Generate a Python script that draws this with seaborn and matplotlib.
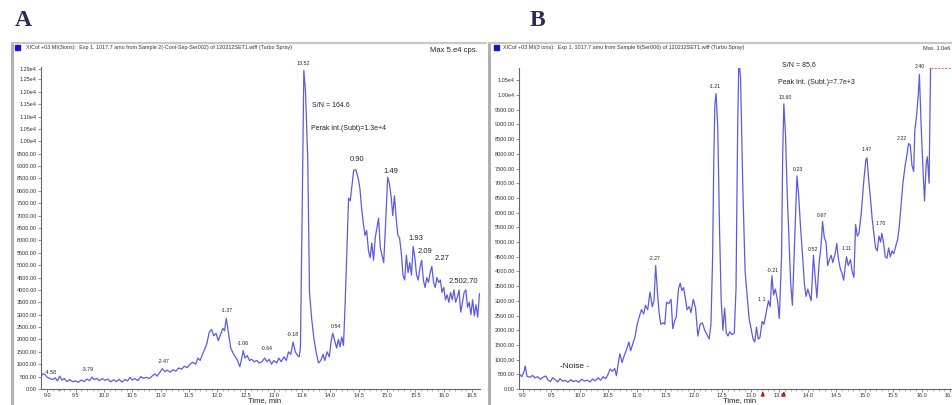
import numpy as np
import pandas as pd
import matplotlib.pyplot as plt
from matplotlib.lines import Line2D
from matplotlib.patches import Rectangle
import seaborn as sns

sns.set_style("ticks")
plt.rcParams['font.family'] = ['Liberation Sans', 'DejaVu Sans']

# ---- panel A trace (time, min / intensity, cps)
a_time = [8.89, 8.93, 8.97, 9.00, 9.05, 9.10, 9.14, 9.18, 9.22, 9.26, 9.30, 9.35, 9.40, 9.45,
          9.50, 9.55, 9.60, 9.65, 9.70, 9.75, 9.79, 9.83, 9.88, 9.92, 9.97, 10.02, 10.07, 10.12,
          10.17, 10.22, 10.27, 10.32, 10.37, 10.42, 10.46, 10.50, 10.55, 10.60, 10.65, 10.70,
          10.75, 10.80, 10.85, 10.90, 10.94, 10.99, 11.03, 11.08, 11.12, 11.17, 11.22, 11.27,
          11.32, 11.37, 11.42, 11.47, 11.52, 11.57, 11.62, 11.66, 11.70, 11.74, 11.78, 11.82,
          11.86, 11.90, 11.94, 11.98, 12.02, 12.06, 12.10, 12.13, 12.16, 12.20, 12.24, 12.28,
          12.32, 12.36, 12.40, 12.43, 12.46, 12.49, 12.53, 12.57, 12.61, 12.65, 12.70, 12.74,
          12.79, 12.84, 12.88, 12.92, 12.96, 13.00, 13.05, 13.09, 13.13, 13.18, 13.22, 13.26,
          13.30, 13.34, 13.38, 13.42, 13.45, 13.47, 13.50, 13.53, 13.56, 13.60, 13.63, 13.67,
          13.71, 13.75, 13.79, 13.83, 13.87, 13.90, 13.94, 13.98, 14.01, 14.04, 14.08, 14.11,
          14.14, 14.17, 14.20, 14.23, 14.26, 14.29, 14.32, 14.35, 14.38, 14.41, 14.45, 14.49,
          14.52, 14.55, 14.58, 14.61, 14.64, 14.67, 14.70, 14.73, 14.76, 14.79, 14.82, 14.85,
          14.88, 14.91, 14.94, 14.97, 15.01, 15.04, 15.07, 15.10, 15.13, 15.16, 15.19, 15.22,
          15.25, 15.28, 15.31, 15.34, 15.37, 15.40, 15.43, 15.46, 15.49, 15.52, 15.55, 15.58,
          15.61, 15.64, 15.67, 15.70, 15.73, 15.76, 15.79, 15.82, 15.85, 15.88, 15.91, 15.94,
          15.97, 16.00, 16.03, 16.06, 16.09, 16.12, 16.15, 16.18, 16.21, 16.24, 16.27, 16.30,
          16.33, 16.36, 16.39, 16.42, 16.45, 16.48, 16.51, 16.54, 16.57, 16.60, 16.63]
a_int = [520, 620, 560, 470, 420, 380, 450, 330, 520, 360, 420, 300, 380, 290,
         330, 270, 360, 300, 400, 340, 480, 380, 430, 330, 420, 350, 400, 290,
         370, 300, 390, 280, 380, 330, 470, 360, 420, 340, 500, 430,
         470, 420, 520, 610, 520, 680, 820, 700, 760, 680, 780, 720,
         850, 800, 920, 860, 1000, 1080, 1000, 1250, 1150, 1400, 1600, 1850,
         2300, 2400, 2150, 2250, 1950, 2200, 2450, 2350, 2850, 2250, 1650, 1450,
         1300, 1150, 900, 1200, 1550, 1250, 1350, 1150, 1200, 1100, 1150, 1050,
         1100, 1250, 1100, 1200, 1000, 1150, 1050, 1250, 1100, 1300, 1150, 1500,
         1400, 1900, 1500, 1350, 1300, 1700, 7000, 12860, 12000, 9200, 3900, 2800,
         2000, 1450, 1050, 1150, 1400, 1150, 1500, 1300, 1900, 2250, 1900, 1650,
         2000, 1700, 2100, 1750, 3500, 5600, 7700, 7600, 8200, 8830, 8850, 8500,
         8100, 7300, 6700, 6200, 6400, 5600, 5300, 5900, 5200, 6100, 6500, 6900,
         5700, 5400, 5100, 6500, 8550, 8300, 7800, 7000, 7800, 6900, 6200, 6100,
         5500, 4600, 4400, 5400, 4700, 5100, 4600, 5750, 5300, 4600, 4400, 4900,
         5200, 4400, 4100, 4500, 4300, 4700, 4950, 4300, 4100, 4500, 4300, 4400,
         3900, 4100, 3600, 3800, 3500, 3900, 3600, 4000, 3500, 3700, 4000, 3100,
         3500, 3900, 4000, 3300, 3500, 3000, 3600, 2950, 3400, 2900, 3850]

# ---- panel B trace
b_time = [8.86, 8.90, 8.94, 8.98, 9.02, 9.04, 9.07, 9.12, 9.17, 9.21, 9.26, 9.30, 9.35, 9.40,
          9.44, 9.48, 9.52, 9.56, 9.61, 9.65, 9.70, 9.74, 9.79, 9.84, 9.88, 9.93, 9.98, 10.03,
          10.08, 10.13, 10.18, 10.22, 10.27, 10.32, 10.36, 10.41, 10.45, 10.49, 10.53, 10.57,
          10.61, 10.64, 10.67, 10.70, 10.74, 10.78, 10.82, 10.86, 10.89, 10.93, 10.97, 11.00,
          11.04, 11.08, 11.12, 11.15, 11.19, 11.23, 11.27, 11.30, 11.33, 11.36, 11.39, 11.42,
          11.46, 11.49, 11.52, 11.56, 11.60, 11.63, 11.66, 11.69, 11.73, 11.76, 11.79, 11.82,
          11.85, 11.88, 11.92, 11.95, 11.99, 12.03, 12.07, 12.11, 12.15, 12.19, 12.23, 12.27,
          12.30, 12.33, 12.35, 12.37, 12.39, 12.42, 12.45, 12.48, 12.51, 12.54, 12.57, 12.60,
          12.63, 12.67, 12.71, 12.74, 12.77, 12.79, 12.82, 12.86, 12.90, 12.93, 12.97, 13.00,
          13.04, 13.07, 13.10, 13.13, 13.16, 13.20, 13.23, 13.27, 13.31, 13.34, 13.37, 13.40,
          13.43, 13.47, 13.50, 13.54, 13.56, 13.58, 13.61, 13.64, 13.67, 13.70, 13.73, 13.77,
          13.81, 13.84, 13.87, 13.91, 13.94, 13.97, 14.00, 14.03, 14.06, 14.10, 14.13, 14.16,
          14.20, 14.23, 14.26, 14.29, 14.32, 14.35, 14.38, 14.41, 14.44, 14.48, 14.51, 14.54,
          14.57, 14.60, 14.63, 14.66, 14.68, 14.71, 14.75, 14.78, 14.81, 14.84, 14.87, 14.90,
          14.94, 14.98, 15.02, 15.04, 15.07, 15.10, 15.13, 15.16, 15.19, 15.22, 15.25, 15.28,
          15.30, 15.33, 15.36, 15.39, 15.42, 15.45, 15.48, 15.51, 15.55, 15.58, 15.61, 15.64,
          15.67, 15.71, 15.74, 15.77, 15.80, 15.83, 15.86, 15.88, 15.91, 15.94, 15.96, 15.99,
          16.02, 16.05, 16.08, 16.10, 16.13, 16.16]
b_int = [540, 650, 500, 420, 600, 780, 430, 400, 460, 380, 420, 330, 400, 440,
         300, 250, 380, 330, 240, 350, 260, 300, 230, 320, 250, 290, 230, 330,
         270, 300, 240, 340, 280, 380, 300, 420, 350, 480, 680, 600,
         700, 450, 820, 1200, 900, 1150, 1350, 1600, 1300, 1550, 1800, 2150,
         2450, 2700, 2550, 2850, 2700, 3300, 2800, 3000, 4200, 3300, 2600, 2200,
         2250, 2200, 2950, 2900, 3050, 2050, 2300, 2450, 3400, 3600, 3350, 3450,
         3100, 2700, 2800, 2600, 3050, 2750, 1800, 2200, 2250, 2000, 1850, 1700,
         2200, 4500, 7800, 9700, 10050, 8900, 5500, 3000, 2000, 2750, 1900, 1800,
         1950, 1850, 1900, 3400, 9000, 11200, 10600, 6800, 4000, 3300, 2400, 2100,
         1700, 1600, 2100, 1700, 1750, 2300, 2200, 2600, 3000, 2800, 3850, 3200,
         3400, 3000, 2400, 4500, 8000, 9700, 8600, 6600, 5100, 3600, 2850, 5000,
         7250, 6600, 5600, 4500, 3600, 3150, 3400, 3200, 3000, 4550, 3800, 3100,
         4300, 4800, 5700, 5150, 5000, 4200, 4400, 4550, 4300, 4600, 4950, 4400,
         4100, 3950, 3700, 4200, 4500, 4200, 4400, 4000, 3800, 5600, 5200, 5300,
         6000, 7000, 7800, 7860, 7100, 6500, 5800, 5300, 4800, 4700, 5200, 5000,
         5300, 5000, 4500, 4450, 4800, 4500, 4700, 4600, 4900, 5100, 5600, 6300,
         7000, 7600, 7950, 8350, 8300, 7600, 7400, 8800, 9300, 10000, 10700, 9000,
         7600, 6400, 7700, 7900, 7000, 11500]

# ---- peak labels
a_big_lab = ['0.90', '1.49', '1.93', '2.09', '2.27', '2.502.70']
a_big_x = [14.47, 15.07, 15.51, 15.67, 15.97, 16.34]
a_big_y = [9110, 8630, 5930, 5400, 5120, 4190]
a_small_lab = ['-4.58', '-3.79', '-2.47', '-1.37', '-1.06', '-0.64', '-0.18', '0.54', '13.52']
a_small_x = [9.07, 9.72, 11.05, 12.17, 12.46, 12.88, 13.34, 14.10, 13.52]
a_small_y = [560, 680, 1000, 3060, 1730, 1530, 2100, 2420, 13060]

b_lab = ['-2.27', '-1.21', '13.60', '0.23', '-0.21', '1 1', '0.52', '0.67', '1.11',
         '1.47', '1.70', '2.22', '2.40']
b_lab_x = [11.32, 12.37, 13.60, 13.82, 13.39, 13.19, 14.09, 14.24, 14.68,
           15.04, 15.28, 15.65, 15.97]
b_lab_y = [4350, 10200, 9830, 7380, 3950, 2960, 4660, 5820, 4690,
           8060, 5540, 8440, 10880]

a_header = "XICof +03 MI(3ions):  Exp 1, 1017.7 amu from Sample 2(-Cont-Sep-Ser002) of 120212SET1.wiff (Turbo Spray)"
b_header = "XICof +03 MI(3 ions):  Exp 1, 1017.7 amu from Sample 6(Ser006) of 120212SET1.wiff (Turbo Spray)"

a_yticks = list(range(0, 12501, 500)) + [12900]
b_yticks = list(range(0, 10501, 500))
x_ticks = [9.0, 9.5, 10.0, 10.5, 11.0, 11.5, 12.0, 12.5, 13.0, 13.5, 14.0, 14.5, 15.0, 15.5, 16.0, 16.5]
x_ticklabels = ['9.0', '9.5', '10.0', '10.5', '11.0', '11.5', '12.0', '12.5', '13.0', '13.6',
                '14.0', '14.5', '15.0', '15.5', '16.0', '16.5']
b_arrows = [13.21, 13.58]

W, H = 953, 405
LINE = '#5b5be0'
INK = '#333333'

fig = plt.figure(figsize=(W / 100, H / 100), dpi=100)
fig.patch.set_facecolor('white')

axA = fig.add_axes([41 / W, 1 - 389 / H, (480 - 41) / W, (389 - 67) / H])
axB = fig.add_axes([519 / W, 1 - 389 / H, (953 - 519) / W, (389 - 68) / H])


def yfmt(v):
    if v >= 10000:
        return f"{v / 1e4:.2f}e4"
    return f"{v:.2f}"


def style_axis(ax, xlim, ylim, yticks):
    ax.set_xlim(*xlim)
    ax.set_ylim(*ylim)
    for s in ['top', 'right']:
        ax.spines[s].set_visible(False)
    for s in ['left', 'bottom']:
        ax.spines[s].set_color('#666666')
        ax.spines[s].set_linewidth(0.8)
    ax.set_xticks(x_ticks)
    ax.set_xticklabels(x_ticklabels)
    ax.set_xticks(np.arange(9.0, 16.55, 0.1), minor=True)
    ax.set_yticks(yticks)
    ax.set_yticklabels([yfmt(v) for v in yticks])
    ax.tick_params(axis='both', which='major', labelsize=4, length=2, width=0.5, pad=1,
                   colors='#666666', labelcolor=INK)
    ax.tick_params(axis='x', which='minor', length=1.5, width=0.4, colors='#666666')
    ax.set_xlabel('')
    ax.set_ylabel('')
    ax.set_facecolor('white')


sns.lineplot(x=a_time, y=a_int, ax=axA, color=LINE, lw=0.9, estimator=None, sort=False)
sns.lineplot(x=b_time, y=b_int, ax=axB, color=LINE, lw=0.9, estimator=None, sort=False)

style_axis(axA, (8.89, 16.64), (0, 13000), a_yticks)
style_axis(axB, (8.93, 16.55), (0, 10920), b_yticks)

# peak labels
for t, x, y in zip(a_big_lab, a_big_x, a_big_y):
    axA.text(x, y, t, fontsize=5.5, ha='center', va='bottom', color='#222222')
for t, x, y in zip(a_small_lab, a_small_x, a_small_y):
    axA.text(x, y, t, fontsize=3.8, ha='center', va='bottom', color='#222222', clip_on=False)
for t, x, y in zip(b_lab, b_lab_x, b_lab_y):
    axB.text(x, y, t, fontsize=3.8, ha='center', va='bottom', color='#222222', clip_on=False)

axA.text(13.68, 11450, 'S/N = 164.6', fontsize=5, ha='left', va='center', color='#222222')
axA.text(13.65, 10520, 'Perak int.(Subt)=1.3e+4', fontsize=5, ha='left', va='center', color='#222222')
axB.text(13.54, 10990, 'S/N = 85.6', fontsize=5, ha='left', va='center', color='#222222', clip_on=False)
axB.text(13.47, 10440, 'Peak Int. (Subt.)=7.7e+3', fontsize=5, ha='left', va='center', color='#222222')
axB.text(9.91, 750, '-Noise -', fontsize=6, ha='center', va='center', color='#222222')

# max marker line in B
axB.plot([b_time[-1], 16.55], [10920, 10920], color='#e06060', lw=0.7, ls=(0, (2, 1.5)), clip_on=False)

# red markers under the time axis
for t in b_arrows:
    axB.annotate('', xy=(t, 0), xycoords=('data', 'axes fraction'), xytext=(0, -6),
                 textcoords='offset points',
                 arrowprops=dict(arrowstyle='-|>', color='#cc1010', lw=1.2, mutation_scale=4))
axA.text(9.22, 0, '^', transform=axA.get_xaxis_transform(), fontsize=4, color='#cc2020',
         ha='center', va='top')

# frames and headers
fig.add_artist(Line2D([12 / W, 12 / W], [0, 1 - 43 / H], color='#b0b0b0', lw=2.2))
fig.add_artist(Line2D([12 / W, 486 / W], [1 - 43 / H, 1 - 43 / H], color='#c8c8c8', lw=1.6))
fig.add_artist(Line2D([489 / W, 489 / W], [0, 1 - 43 / H], color='#b0b0b0', lw=2.2))
fig.add_artist(Line2D([489 / W, 1], [1 - 43 / H, 1 - 43 / H], color='#c8c8c8', lw=1.6))

fig.add_artist(Rectangle((15 / W, 1 - 50 / H), 5 / W, 5 / H, color='#1818c8', transform=fig.transFigure))
fig.add_artist(Rectangle((494 / W, 1 - 50 / H), 5 / W, 5 / H, color='#1818c8', transform=fig.transFigure))
fig.text(26 / W, 1 - 47.5 / H, a_header, fontsize=3.9, ha='left', va='center', color=INK)
fig.text(503 / W, 1 - 47.5 / H, b_header, fontsize=3.9, ha='left', va='center', color=INK)
fig.text(430 / W, 1 - 51 / H, 'Max 5.e4 cps.', fontsize=5.5, ha='left', va='center', color='#222222')
fig.text(923 / W, 1 - 48 / H, 'Max. 1.0e6', fontsize=4.0, ha='left', va='center', color=INK)

fig.text(265 / W, 1 - 401 / H, 'Time, min', fontsize=5.5, ha='center', va='center', color='#222222')
fig.text(740 / W, 1 - 401 / H, 'Time, min', fontsize=5.5, ha='center', va='center', color='#222222')

fig.text(23 / W, 1 - 20 / H, 'A', fontsize=17, fontweight='bold', family='Liberation Serif',
         color='#2d2a55', ha='center', va='center')
fig.text(537 / W, 1 - 20 / H, 'B', fontsize=17, fontweight='bold', family='Liberation Serif',
         color='#2d2a55', ha='center', va='center')

fig.savefig('out.png', dpi=100)
